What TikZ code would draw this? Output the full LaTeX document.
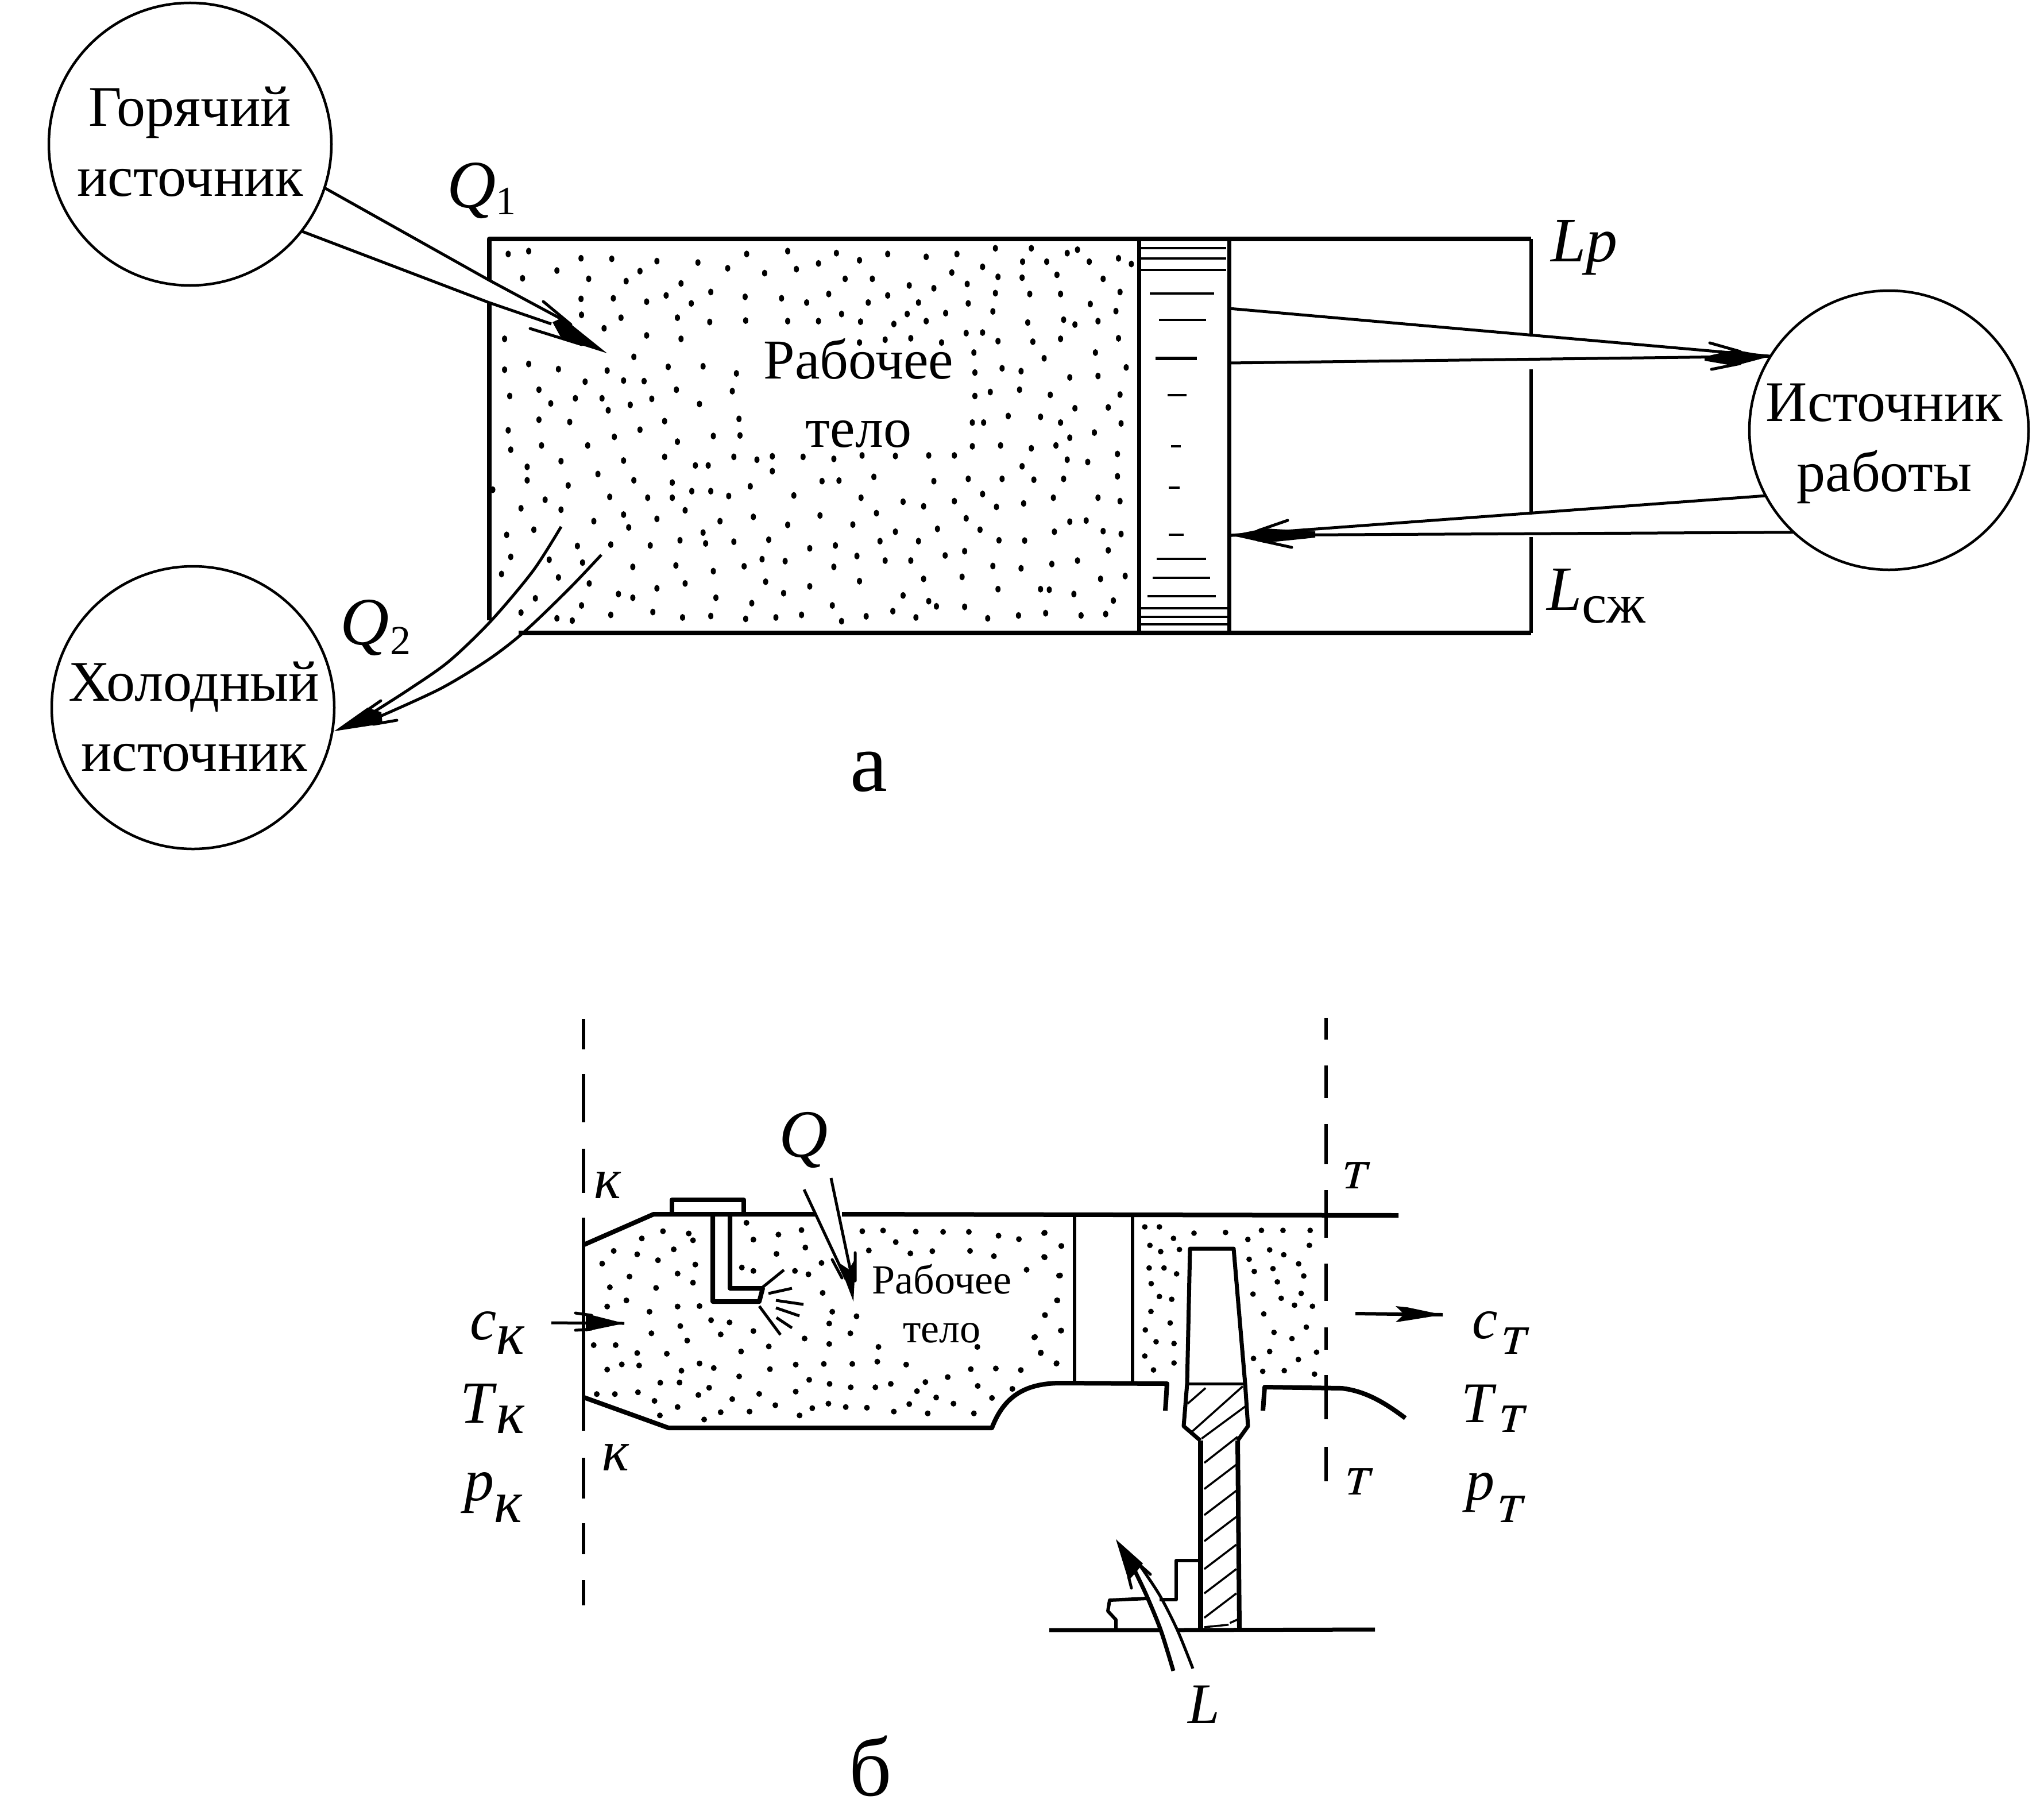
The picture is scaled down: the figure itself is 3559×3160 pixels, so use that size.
\documentclass[tikz,border=0pt]{standalone}
\usepackage{fontspec}
\setmainfont{Liberation Serif}
\newfontfamily\slfont[FakeSlant=0.25]{Liberation Serif}
\newcommand{\FS}[1]{\fontsize{#1}{#1}\selectfont}
\tikzset{
  lab/.style={anchor=base west,inner sep=0pt,outer sep=0pt},
  src/.style={draw,circle,line width=4.5pt,minimum size=#1,inner sep=0pt,outer sep=0pt},
  srctext/.style={align=center,inner sep=0pt,font=\fontsize{100}{122}\selectfont},
  wall/.style={line width=8pt},
  thinwall/.style={line width=5.5pt},
  shaft/.style={line width=5pt},
  barb/.style={line width=5pt,line cap=round},
  pistontick/.style={line width=3.5pt},
  hatchline/.style={line width=3.5pt},
  dashseg/.style={line width=6.5pt}
}
\begin{document}
\begin{tikzpicture}[x=1pt,y=-1pt,line join=round]
\useasboundingbox (0,0) rectangle (3559,3160);
% ---------- part a
\node[src=492pt] (hot) at (331,251) {};
\node[src=492pt] (cold) at (336,1232) {};
\node[src=486pt] (work) at (3289,749) {};
\node[srctext] (hottext) at (331,247) {Горячий\\источник};
\node[srctext] (coldtext) at (338,1248) {Холодный\\источник};
\node[srctext] (worktext) at (3281,772) {Источник\\работы};
\node[font=\fontsize{98}{119}\selectfont,align=center,inner sep=0pt] (body) at (1495,684) {Рабочее\\тело};
% cylinder
\draw[wall] (852,488) -- (852,416) -- (2666,416);
\draw[wall] (852,527) -- (852,1080);
\draw[wall] (903,1102) -- (2666,1102);
\draw[line width=7pt] (1983,416) -- (1983,1102) (2140,416) -- (2140,1102);
\draw[thinwall] (2666,416) -- (2666,584) (2666,643) -- (2666,895) (2666,935) -- (2666,1102);
% piston ticks
\foreach \a/\b/\c in {1986/2135/432,1986/2135/450,1986/2135/470,2002/2114/511,2018/2100/557,2039/2056/777,2035/2054/849,2035/2061/931,2014/2100/973,2007/2107/1006,1998/2117/1038,1986/2138/1059,1986/2138/1074,1986/2138/1087}
  \draw[pistontick] (\a,\c) -- (\b,\c);
\draw[line width=6pt] (2012,624) -- (2084,624);
\draw[pistontick] (2033,688) -- (2066,688);
% stipple in cylinder
\begin{scope}[shift={(800,380)},xscale=0.893,yscale=0.4975]
\foreach \x/\y in {95/125,135/115,237/140,297/142,385/150,465/155,523/175,560/125,640/115,735/122,835/125,780/147,910/135,970/125,1045/105,1115/105,1185/122,1205/110,
190/183,123/210,252/212,352/185,325/220,432/228,490/258,595/192,657/178,700/158,752/212,805/212,877/235,925/245,960/190,990/230,1020/170,1050/205,1097/208,1098/152,1145/152,1165/198,1228/152,1255/212,1285/140,1310/160,1288/258,
237/282,300/280,365/292,452/298,403/270,557/275,628/280,677/295,720/265,797/295,835/270,895/295,992/298,1045/262,1112/265,1172/265,1230/300,
238/338,315/348,425/348,488/363,558/358,640/360,700/360,745/335,782/362,847/370,873/335,910/360,948/332,1040/326,1108/365,1178/355,1200/372,1245/360,1280/325,
282/385,365/410,432/422,88/422,780/435,830/425,880/420,940/435,988/402,1020/400,1050/430,1118/432,1172/422,1285/420,
340/485,407/520,475/518,135/510,88/530,193/528,288/533,540/543,1003/470,1005/540,1058/525,1095/535,1140/490,1240/470,1300/522,1190/557,1245/552,
245/572,320/568,360/570,423/600,155/600,98/622,178/648,226/630,278/630,333/653,375/632,290/672,468/650,532/605,1035/608,1005/622,1092/600,1152/618,1288/617,1200/665,1265/662,
155/705,215/713,400/710,545/702,1000/715,1022/715,1070/692,1133/695,1172/715,1290/718,
95/742,352/740,302/765,495/762,547/760,1238/750,1190/768,160/795,250/795,425/782,1000/798,1055/795,1115/805,1163/795,
100/810,198/850,320/848,400/835,535/835,580/845,610/833,670/835,730/842,785/830,850/832,915/830,965/830,1283/825,1185/845,1225/853,
132/870,270/895,460/865,485/865,610/885,1097/868,132/917,340/917,415/925,212/935,707/920,740/918,808/905,925/920,992/912,1058/912,1120/915,1178/912,1283/903,
65/950,453/955,490/955,567/938,293/975,367/978,415/978,525/972,652/970,783/978,1020/965,865/992,905/1008,965/990,1047/1010,1100/998,1158/978,1245/978,1288/990,
167/985,120/1015,198/1020,320/1037,440/1022,385/1052,262/1060,508/1060,573/1045,703/1040,813/1032,988/1050,1190/1062,1222/1058,
145/1090,330/1082,640/1073,767/1072,932/1087,850/1097,1015/1090,1160/1097,1255/1095,1290/1105,
92/1108,295/1142,230/1147,372/1145,430/1127,480/1138,535/1132,475/1100,603/1125,683/1155,733/1145,820/1130,895/1130,1052/1127,1102/1128,
100/1185,175/1195,240/1205,338/1220,422/1215,495/1235,555/1218,590/1193,635/1200,730/1220,775/1182,830/1198,880/1198,947/1180,985/1165,1040/1217,1095/1225,1155/1210,1205/1198,1265/1162,
82/1245,193/1257,253/1278,385/1295,440/1278,597/1272,683/1288,780/1270,905/1262,980/1255,1250/1262,1298/1252,
148/1330,310/1315,338/1328,500/1328,632/1312,865/1320,915/1340,930/1358,985/1360,1050/1298,1133/1298,1150/1300,1198/1315,1275/1338,
120/1380,238/1355,295/1388,377/1378,570/1347,727/1355,845/1375,190/1400,220/1408,435/1397,490/1392,558/1402,617/1397,667/1388,745/1410,793/1393,890/1397,1030/1400,1090/1390,1143/1382,1212/1390,1260/1385}
  \fill (\x,\y) ellipse [x radius=5,y radius=12];
\end{scope}
% arrow Q1
\coordinate (q1tip) at (1057,615);
\draw[shaft] (hot.-18.5) -- (852,488) -- (986,560);
\draw[shaft] (hot.-38.7) -- (852,527) -- (960,564);
\fill (q1tip) -- (996,566) -- (975,555) -- (962,561) -- (978,590) -- cycle;
\draw[barb] (946,525) -- (994,565) (923,572) -- (1013,600);
% arrow Q2
\coordinate (q2tip) at (582,1273);
\draw[shaft,smooth] plot coordinates {(977,917) (928,994) (854,1082) (781,1152) (711,1201) (650,1240)};
\draw[shaft,smooth] plot coordinates {(1047,966) (991,1025) (914,1099) (851,1148) (767,1199) (660,1248)};
\fill (q2tip) -- (640,1232) -- (664,1240) -- (666,1260) -- cycle;
\draw[barb] (663,1220) -- (640,1236) (691,1254) -- (650,1261);
% arrow Lp
\coordinate (lptipA) at (2140,537);
\coordinate (lptipB) at (2140,632);
\draw[shaft] (lptipA) -- (work.148.6);
\draw[shaft] (lptipB) -- (work.148.6);
\fill (work.148.6) -- (3020,609) -- (2968,621) -- (2968,628) -- (3020,637) -- cycle;
\draw[barb] (2977,597) -- (3030,612) (2980,643) -- (3030,633);
% arrow Lcomp
\coordinate (lctip) at (2143,932);
\draw[shaft] (work.208) -- (lctip);
\draw[shaft] (work.227.8) -- (lctip);
\fill (lctip) -- (2202,920) -- (2290,925) -- (2290,936) -- (2202,945) -- cycle;
\draw[barb] (2242,906) -- (2190,924) (2249,953) -- (2190,940);
% labels a
\node[lab] (lq1) at (778,361) {\FS{118}\textit{Q}\raisebox{-12pt}{\FS{70}1}};
\node[lab] (lq2) at (592,1122) {\FS{118}\textit{Q}\hspace{2pt}\raisebox{-17pt}{\FS{72}2}};
\node[lab] (llp) at (2700,455) {\FS{110}\textit{Lp}};
\node[lab] (llc) at (2693,1062) {\FS{110}\textit{L}\raisebox{-22pt}{\FS{98}сж}};
\node[lab] (la) at (1480,1377) {\FS{146}а};
% ---------- part b
\draw[dashseg] (1016,1774) -- (1016,1827) (1016,1870) -- (1016,1954) (1016,2000) -- (1016,2077) (1016,2120) -- (1016,2491) (1016,2538) -- (1016,2609) (1016,2652) -- (1016,2706) (1016,2751) -- (1016,2795);
\draw[dashseg] (2309,1772) -- (2309,1810) (2309,1855) -- (2309,1912) (2309,1957) -- (2309,2027) (2309,2072) -- (2309,2155) (2309,2200) -- (2309,2265) (2309,2311) -- (2309,2350) (2309,2394) -- (2309,2471) (2309,2519) -- (2309,2579);
% casing
\draw[wall] (1017,2167) -- (1138,2114) -- (1419,2114);
\draw[wall] (1466,2114) -- (2435,2116);
\draw[wall] (1170,2112) -- (1170,2089) -- (1295,2089) -- (1295,2112);
\draw[wall] (1241,2116) -- (1241,2266) -- (1322,2266) -- (1328,2243) -- (1271,2243) -- (1271,2116);
\foreach \a/\b/\c/\d in {1328/2241/1365/2211,1338/2252/1379/2243,1351/2264/1399/2271,1351/2277/1392/2291,1352/2294/1379/2312,1322/2274/1359/2324}
  \draw[line width=5pt] (\a,\b) -- (\c,\d);
\draw[wall] (1017,2433) -- (1164,2486) -- (1727,2486) .. controls (1745,2440) and (1775,2408) .. (1847,2408) -- (2032,2409) -- (2029,2456);
\draw[line width=6pt] (1871,2117) -- (1871,2408) (1972,2117) -- (1972,2408);
\draw[wall] (2199,2456) -- (2202,2415) -- (2336,2417) .. controls (2380,2422) and (2415,2445) .. (2447,2469);
% blade
\draw[line width=7pt] (2067,2409) -- (2072,2174) -- (2148,2174) -- (2168,2409);
\draw[line width=5pt] (2067,2409) -- (2168,2409);
\draw[line width=7pt] (2067,2409) -- (2061,2483) -- (2090,2508);
\draw[line width=7pt] (2168,2409) -- (2173,2483) -- (2155,2508);
\draw[line width=9pt] (2090,2508) -- (2090,2835);
\draw[line width=8pt] (2155,2508) -- (2158,2835);
\begin{scope}[shift={(1800,2050)},xscale=0.4464,yscale=0.606]
\foreach \a/\b/\c/\d in {600/650/670/605,610/735/815/600,655/750/830/655,665/820/795/745,665/895/790/825,665/970/790/900,665/1045/790/975,665/1125/790/1055,665/1195/790/1125,665/1265/790/1195,665/1292/760/1285,765/1280/795/1270}
  \draw[hatchline] (\a,\b) -- (\c,\d);
\foreach \x/\y in {40/160,108/197,40/228,98/282,90/353,43/395,105/440,5/458,27/505,88/535,
433/142,490/142,625/160,748/158,545/175,453/195,495/213,568/207,835/178,888/152,972/152,1078/152,1075/195,920/208,975/222,840/235,450/260,508/260,557/277,860/270,933/262,1033/248,1053/283,950/300,458/305,855/335,1043/333,490/342,538/350,965/347,1017/367,1087/370,457/385,897/392,532/418,1063/430,435/438,937/445,1007/463,477/472,547/477,1103/502,920/500,433/513,857/520,1032/523,547/533,467/553,893/557,977/555,1095/565}
  \fill (\x,\y) ellipse [x radius=11,y radius=8];
\end{scope}
\begin{scope}[shift={(950,1950)},xscale=0.67,yscale=0.395]
\foreach \x/\y in {305/490,372/500,383/530,250/522,177/577,238/592,333/570,292/618,147/633,389/637,218/690,343/677,167/737,287/740,383/717,210/795,160/822,270/845,343/822,400/820,430/882,478/892,350/908,275/940,455/945,540/930,368/972,125/992,182/992,238/1027,315/1030,508/1020,580/998,198/1077,243/1082,160/1100,400/1073,353/1105,437/1093,583/1098,503/1130,650/1078,723/1075,298/1158,348/1157,425/1180,685/1145,738/1163,240/1200,133/1208,180/1208,397/1212,555/1207,650/1197,793/1178,857/1178,897/1163,283/1238,343/1265,485/1230,597/1257,735/1250,780/1265,835/1268,945/1252,965/1195,1015/1223,1060/1250,1160/1225,455/1288,530/1285,297/1302,412/1320,660/1302,693/1270,905/1285,993/1293,1113/1293,1213/1185,1123/1172,987/1155,1045/1133,
522/453,540/527,605/505,665/485,600/590,675/562,717/630,510/650,540/665,648/665,683/680,720/762,745/845,808/865,737/897,792/940,673/963,737/987,865/1000,862/1065,797/1075,937/1078,1105/1098,1170/1095,1235/1102,
823/490,877/487,962/492,1033/493,1100/493,1177/510,1297/497,1230/525,910/538,840/575,948/588,1005/578,1103/577,1165/600,1340/555,1297/605,1250/660,1337/685,1330/795,1298/860,1340/928,1270/958,1287/1025,1328/1072,1122/1000}
  \fill (\x,\y) ellipse [x radius=7.5,y radius=13];
\end{scope}
% root and disk
\draw[wall,line width=7pt] (1827,2838) -- (2021,2838) (2050,2838) -- (2394,2837);
\draw[line width=6pt] (1943,2835) -- (1943,2820) -- (1929,2805) -- (1932,2786) -- (1996,2783);
\draw[line width=6pt] (2019,2785) -- (2048,2785) -- (2048,2717) -- (2086,2717);
% arrow Q
\coordinate (qtip) at (1486,2266);
\draw[shaft] (1400,2071) -- (1473,2227);
\draw[shaft] (1447,2051) -- (1484,2227);
\fill (qtip) -- (1460,2198) -- (1478,2210) -- (1490,2190) -- cycle;
\draw[barb] (1449,2193) -- (1466,2225) (1489,2181) -- (1489,2230);
% arrow L
\coordinate (ltip) at (1943,2680);
\draw[line width=7pt,smooth] plot coordinates {(2043,2909) (2021,2838) (1996,2777) (1976,2735)};
\draw[shaft,smooth] plot coordinates {(2077,2905) (2050,2838) (2019,2777) (1983,2723)};
\fill (ltip) -- (1990,2722) -- (1980,2735) -- (1965,2752) -- cycle;
\draw[barb] (2003,2741) -- (1985,2725) (1970,2765) -- (1965,2745);
% flow arrows
\coordinate (cktip) at (1087,2304);
\draw[line width=5pt] (960,2303) -- (cktip);
\fill (cktip) -- (1020,2287) -- (1020,2318) -- cycle;
\draw[barb] (1002,2286) -- (1030,2290) (1002,2316) -- (1030,2314);
\coordinate (cttip) at (2512,2289);
\draw[line width=6pt] (2360,2287) -- (cttip);
\fill (cttip) -- (2450,2276) -- (2430,2274) -- (2445,2288) -- (2430,2302) -- (2450,2299) -- cycle;
% labels b
\node[inner sep=0pt,font=\fontsize{72}{85}\selectfont,align=center] (body2) at (1640,2270) {Рабочее\\тело};
\node[lab] (lq) at (1356,2014) {\FS{118}\textit{Q}};
\node[lab] (k1) at (1034,2086) {\FS{100}\textit{к}};
\node[lab] (k2) at (1048,2560) {\FS{100}\textit{к}};
\node[lab] (t1) at (2332,2069) {\FS{100}\slfont т};
\node[lab] (t2) at (2337,2602) {\FS{100}\slfont т};
\node[lab] (ck) at (818,2332) {\FS{104}\textit{c}\raisebox{-25pt}{\textit{к}}};
\node[lab] (tk) at (801,2477) {\FS{104}\textit{T}\raisebox{-18pt}{\textit{к}}};
\node[lab] (pk) at (808,2612) {\FS{104}\textit{p}\raisebox{-38pt}{\textit{к}}};
\node[lab] (ct) at (2563,2330) {\FS{100}\textit{c}\hspace{2pt}\raisebox{-27pt}{\slfont т}};
\node[lab] (tt) at (2544,2476) {\FS{100}\textit{T}\raisebox{-17pt}{\slfont т}};
\node[lab] (pt) at (2552,2611) {\FS{100}\textit{p}\raisebox{-39pt}{\slfont т}};
\node[lab] (ll) at (2068,3000) {\FS{100}\textit{L}};
\node[lab] (lb) at (1478,3126) {\FS{146}б};
\end{tikzpicture}
\end{document}
